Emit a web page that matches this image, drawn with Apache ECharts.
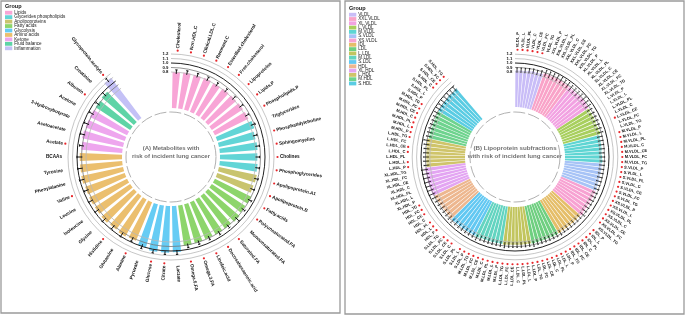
<!DOCTYPE html>
<html>
<head>
<meta charset="utf-8">
<title>Circular bar plots</title>
<script src="https://cdn.jsdelivr.net/npm/echarts@6.0.0/dist/echarts.min.js"></script>
<style>
  html, body { margin: 0; padding: 0; background: #fff; }
  #main { width: 685px; height: 315px; }
</style>
</head>
<body>
<div id="main"></div>
<script>
// ---- (A) metabolites ----
var metGroups = ['Lipids', 'Glycerides phospholipids', 'Apolipoproteins', 'Fatty acids', 'Glycolysis',
  'Amino acids', 'Ketone', 'Fluid balance', 'Inflammation'];
var metColors = ['#F8A5D6', '#62D5D6', '#C9C46E', '#8DD56B', '#66CCF4', '#EBBF6E', '#EEA6EE', '#5ED4A6', '#C4C1F6'];
var metNames = ['Cholesterol', 'Non.HDL.C', 'Clinical.LDL.C', 'Remnant.C', 'Esterified.cholesterol',
  'Free.cholesterol', 'Lipoproteins', 'Lipids.P', 'Phospholipids.P',
  'Triglycerides', 'Phosphatidylcholine', 'Sphingomyelins', 'Cholines', 'Phosphoglycerides',
  'Apolipoprotein.A1', 'Apolipoprotein.B',
  'Fatty.acids', 'Polyunsaturated.FA', 'Monounsaturated.FA', 'Saturated.FA', 'Docosahexaenoic.acid',
  'Linoleic.acid', 'Omega.3.FA', 'Omega.6.FA',
  'Lactate', 'Citrate', 'Glucose', 'Pyruvate',
  'Alanine', 'Glutamine', 'Histidine', 'Glycine', 'Isoleucine', 'Leucine', 'Valine', 'Phenylalanine',
  'Tyrosine', 'BCAAs',
  'Acetate', 'Acetoacetate', '3-Hydroxybutyrate', 'Acetone',
  'Albumin', 'Creatinine',
  'Glycoprotein.acetyls'];
var metGroupOf = [0, 0, 0, 0, 0, 0, 0, 0, 0, 1, 1, 1, 1, 1, 2, 2, 3, 3, 3, 3, 3, 3, 3, 3,
  4, 4, 4, 4, 5, 5, 5, 5, 5, 5, 5, 5, 5, 5, 6, 6, 6, 6, 7, 7, 8];
var metHR = [0.80, 0.81, 0.81, 0.82, 0.81, 0.82, 0.82, 0.83, 0.83,
  0.87, 0.83, 0.84, 0.83, 0.84, 0.86, 0.85,
  0.90, 0.89, 0.92, 0.90, 0.90, 0.89, 0.90, 0.91,
  1.03, 1.04, 1.04, 1.00,
  0.93, 0.95, 0.93, 0.95, 0.94, 0.94, 0.93, 0.95, 0.94, 0.94,
  0.91, 0.93, 0.92, 0.92, 0.92, 0.94, 1.12];
var metLow = [0.76, 0.77, 0.77, 0.78, 0.77, 0.78, 0.78, 0.79, 0.79,
  0.82, 0.79, 0.80, 0.79, 0.80, 0.82, 0.81,
  0.86, 0.85, 0.87, 0.86, 0.86, 0.85, 0.86, 0.87,
  0.98, 1.01, 1.01, 0.95,
  0.88, 0.90, 0.88, 0.90, 0.89, 0.89, 0.88, 0.90, 0.89, 0.88,
  0.86, 0.88, 0.87, 0.87, 0.87, 0.89, 1.07];
var metHigh = [0.85, 0.86, 0.86, 0.87, 0.86, 0.87, 0.87, 0.88, 0.88,
  0.92, 0.88, 0.89, 0.88, 0.89, 0.91, 0.90,
  0.95, 0.94, 0.98, 0.95, 0.95, 0.94, 0.95, 0.96,
  1.08, 1.08, 1.08, 1.05,
  0.98, 1.01, 0.98, 1.01, 1.00, 1.00, 0.98, 1.01, 1.00, 1.00,
  0.96, 0.99, 0.98, 0.98, 0.97, 1.00, 1.17];
var metSig = [1, 1, 1, 1, 1, 1, 1, 1, 1, 0, 1, 1, 1, 1, 1, 1, 1, 1, 0, 1, 1, 1, 1, 1,
  0, 1, 1, 0, 1, 0, 1, 0, 0, 0, 1, 0, 0, 0, 1, 0, 0, 0, 1, 0, 1];

// ---- (B) lipoprotein subfractions ----
var lipGroups = ['VLDL', 'XXL.VLDL', 'XL.VLDL', 'L.VLDL', 'M.VLDL', 'S.VLDL', 'XS.VLDL', 'IDL', 'LDL',
  'L.LDL', 'M.LDL', 'S.LDL', 'HDL', 'XL.HDL', 'L.HDL', 'M.HDL', 'S.HDL'];
var lipColors = ['#C9BDF7', '#F9A3C8', '#F2A2E2', '#A8CF5E', '#5FD5D3', '#A7C3F6', '#F7A2D2', '#E5BE69',
  '#6FCF80', '#C2C55E', '#63D4C0', '#62C8F2', '#EDB78F', '#E3A5F2', '#CFC46A', '#6ED38E', '#5ACCE3'];
var lipMeasures = ['P', 'L', 'PL', 'C', 'CE', 'FC', 'TG'];
var lipHR = [
  [0.83, 0.83, 0.83, 0.84, 0.85, 0.84, 0.85],
  [0.88, 0.88, 0.88, 0.89, 0.89, 0.88, 0.88],
  [0.87, 0.87, 0.87, 0.88, 0.89, 0.88, 0.87],
  [0.86, 0.86, 0.86, 0.86, 0.85, 0.86, 0.87],
  [0.84, 0.84, 0.84, 0.84, 0.83, 0.84, 0.85],
  [0.84, 0.84, 0.84, 0.84, 0.84, 0.84, 0.85],
  [0.85, 0.85, 0.85, 0.85, 0.85, 0.85, 0.87],
  [0.85, 0.85, 0.85, 0.85, 0.85, 0.85, 0.86],
  [0.86, 0.86, 0.86, 0.86, 0.86, 0.86, 0.87],
  [0.86, 0.86, 0.86, 0.86, 0.86, 0.86, 0.87],
  [0.86, 0.86, 0.86, 0.86, 0.86, 0.86, 0.88],
  [0.87, 0.87, 0.87, 0.87, 0.87, 0.87, 0.88],
  [0.88, 0.87, 0.87, 0.87, 0.87, 0.88, 0.89],
  [0.92, 0.92, 0.92, 0.92, 0.92, 0.92, 0.93],
  [0.88, 0.88, 0.88, 0.88, 0.88, 0.89, 0.90],
  [0.87, 0.87, 0.87, 0.87, 0.87, 0.88, 0.89],
  [0.90, 0.90, 0.90, 0.90, 0.91, 0.90, 0.92]
];
var lipLow = [
  [0.78, 0.78, 0.78, 0.79, 0.80, 0.79, 0.79],
  [0.81, 0.81, 0.81, 0.82, 0.82, 0.81, 0.81],
  [0.80, 0.80, 0.80, 0.81, 0.82, 0.81, 0.80],
  [0.80, 0.80, 0.80, 0.80, 0.79, 0.80, 0.81],
  [0.78, 0.78, 0.78, 0.78, 0.77, 0.78, 0.79],
  [0.78, 0.78, 0.78, 0.78, 0.78, 0.78, 0.79],
  [0.79, 0.79, 0.79, 0.79, 0.79, 0.79, 0.81],
  [0.79, 0.79, 0.79, 0.79, 0.79, 0.79, 0.80],
  [0.80, 0.80, 0.80, 0.80, 0.80, 0.80, 0.81],
  [0.80, 0.80, 0.80, 0.80, 0.80, 0.80, 0.81],
  [0.80, 0.80, 0.80, 0.80, 0.80, 0.80, 0.82],
  [0.81, 0.81, 0.81, 0.81, 0.81, 0.81, 0.82],
  [0.82, 0.81, 0.81, 0.81, 0.81, 0.82, 0.83],
  [0.85, 0.85, 0.85, 0.85, 0.85, 0.85, 0.86],
  [0.82, 0.82, 0.82, 0.82, 0.82, 0.83, 0.84],
  [0.81, 0.81, 0.81, 0.81, 0.81, 0.82, 0.83],
  [0.84, 0.84, 0.84, 0.84, 0.85, 0.84, 0.86]
];
var lipHigh = [
  [0.89, 0.89, 0.89, 0.90, 0.91, 0.90, 0.92],
  [0.96, 0.96, 0.96, 0.97, 0.97, 0.96, 0.96],
  [0.95, 0.95, 0.95, 0.96, 0.97, 0.96, 0.95],
  [0.93, 0.93, 0.93, 0.93, 0.92, 0.93, 0.94],
  [0.90, 0.90, 0.90, 0.90, 0.89, 0.90, 0.91],
  [0.90, 0.90, 0.90, 0.90, 0.90, 0.90, 0.91],
  [0.91, 0.91, 0.91, 0.91, 0.91, 0.91, 0.94],
  [0.91, 0.91, 0.91, 0.91, 0.91, 0.91, 0.93],
  [0.92, 0.92, 0.92, 0.92, 0.92, 0.92, 0.94],
  [0.92, 0.92, 0.92, 0.92, 0.92, 0.92, 0.94],
  [0.92, 0.92, 0.92, 0.92, 0.92, 0.92, 0.95],
  [0.93, 0.93, 0.93, 0.93, 0.93, 0.93, 0.95],
  [0.94, 0.93, 0.93, 0.93, 0.93, 0.94, 0.96],
  [1.00, 1.00, 1.00, 1.00, 1.00, 1.00, 1.01],
  [0.94, 0.94, 0.94, 0.94, 0.94, 0.95, 0.97],
  [0.93, 0.93, 0.93, 0.93, 0.93, 0.94, 0.96],
  [0.97, 0.97, 0.97, 0.97, 0.98, 0.97, 0.99]
];
var lipSig = ['1111110', '0000000', '0000000', '0000100', '1111111', '1111111', '1111110', '1111111',
  '1111111', '1111111', '1111111', '1101110', '1110111', '0000000', '1101101', '1111111', '0001111'];

var radialTicks = [0.8, 0.9, 1.0, 1.1, 1.2];
var tickColors = ['#b8b8b8', '#777777', '#222222', '#b8b8b8', '#b8b8b8'];

var FONT = 'Liberation Sans, Arial, sans-serif';
var metCenter = [171, 157];
var lipCenter = [515, 157];

// flatten the lipoprotein table
var lipNames = [], lipGroupOf = [], lipVal = [], lipLo = [], lipHi = [], lipStar = [];
lipGroups.forEach(function (g, gi) {
  lipMeasures.forEach(function (m, mi) {
    lipNames.push(g + '_' + m);
    lipGroupOf.push(gi);
    lipVal.push(lipHR[gi][mi]);
    lipLo.push(lipLow[gi][mi]);
    lipHi.push(lipHigh[gi][mi]);
    lipStar.push(lipSig[gi].charAt(mi) === '1' ? 1 : 0);
  });
});

function slots(names, empty) {
  var s = names.slice();
  for (var k = 0; k < empty; k++) s.push('gap' + k);
  return s;
}

function angleOf(api, cs, i) {
  var p = api.coord([0, i]);
  return Math.atan2(p[1] - cs.cy, p[0] - cs.cx);
}

function radiusOf(api, cs, v) {
  var p = api.coord([v, 0]);
  return Math.sqrt((p[0] - cs.cx) * (p[0] - cs.cx) + (p[1] - cs.cy) * (p[1] - cs.cy));
}

function barSeries(pi, vals, groupOf, colors, gap) {
  return {
    type: 'bar', coordinateSystem: 'polar', polarIndex: pi, barCategoryGap: gap, z: 2, silent: true,
    data: vals.map(function (v, i) { return { value: v, itemStyle: { color: colors[groupOf[i]] } }; })
  };
}

// reference circles, tick labels and the dashed inner ring
function gridSeries(pi, nBars, dashInset) {
  return {
    type: 'custom', coordinateSystem: 'polar', polarIndex: pi, z: 3, silent: true,
    data: [[0, 0]],
    renderItem: function (params, api) {
      var cs = params.coordSys;
      var a0 = angleOf(api, cs, 0), a1 = angleOf(api, cs, 1);
      var step = a1 - a0;
      if (step < -Math.PI) step += 2 * Math.PI;
      var start = a0 - step / 2, end = start + step * nBars;
      var kids = [];
      radialTicks.forEach(function (v, k) {
        var rr = radiusOf(api, cs, v);
        kids.push({
          type: 'arc',
          shape: { cx: cs.cx, cy: cs.cy, r: rr, startAngle: start, endAngle: end, clockwise: true },
          style: { fill: null, stroke: tickColors[k], lineWidth: k === 2 ? 1 : 0.8 }
        });
        kids.push({
          type: 'text', x: cs.cx - 2.5, y: cs.cy - rr,
          style: { text: v.toFixed(1), fontSize: 4.3, fontWeight: 'bold', fontFamily: FONT,
            fill: '#111', align: 'right', verticalAlign: 'middle' }
        });
      });
      kids.push({
        type: 'arc',
        shape: { cx: cs.cx, cy: cs.cy, r: cs.r0 - dashInset, startAngle: 0, endAngle: Math.PI * 2 },
        style: { fill: null, stroke: '#a8a8a8', lineWidth: 0.9, lineDash: [12, 3] }
      });
      return { type: 'group', children: kids };
    }
  };
}

function errorSeries(pi, lo, hi, cap, width) {
  return {
    type: 'custom', coordinateSystem: 'polar', polarIndex: pi, z: 4, silent: true,
    data: lo.map(function (v, i) { return [v, i]; }),
    renderItem: function (params, api) {
      var i = params.dataIndex;
      var p1 = api.coord([lo[i], i]);
      var p2 = api.coord([hi[i], i]);
      var dx = p2[0] - p1[0], dy = p2[1] - p1[1];
      var len = Math.sqrt(dx * dx + dy * dy) || 1;
      var nx = -dy / len * cap, ny = dx / len * cap;
      var st = { stroke: '#111', lineWidth: width };
      return {
        type: 'group', children: [
          { type: 'line', shape: { x1: p1[0], y1: p1[1], x2: p2[0], y2: p2[1] }, style: st },
          { type: 'line', shape: { x1: p2[0] - nx, y1: p2[1] - ny, x2: p2[0] + nx, y2: p2[1] + ny }, style: st }
        ]
      };
    }
  };
}

function labelSeries(pi, names, star, fontSize, offset) {
  return {
    type: 'custom', coordinateSystem: 'polar', polarIndex: pi, z: 4, silent: true,
    data: names.map(function (n, i) { return [0, i]; }),
    renderItem: function (params, api) {
      var cs = params.coordSys;
      var i = params.dataIndex;
      var a = angleOf(api, cs, i);
      var ca = Math.cos(a), sa = Math.sin(a);
      var r = cs.r + offset;
      var right = ca >= -0.02;
      var tr = r + 2.4;
      var kids = [{
        type: 'text', x: cs.cx + ca * tr, y: cs.cy + sa * tr,
        rotation: right ? -a : Math.PI - a,
        style: { text: names[i], fontSize: fontSize, fontWeight: 'bold', fontFamily: FONT, fill: '#111',
          align: right ? 'left' : 'right', verticalAlign: 'middle' }
      }];
      if (star[i]) {
        kids.push({ type: 'circle', shape: { cx: cs.cx + ca * r, cy: cs.cy + sa * r, r: 1.1 },
          style: { fill: '#e8262a' } });
      }
      return { type: 'group', children: kids };
    }
  };
}

function legend(x, y0, step, groups, colors) {
  var els = [{ type: 'text', x: x, y: y0 - 6.5,
    style: { text: 'Group', fontSize: 5.5, fontWeight: 'bold', fontFamily: FONT, fill: '#111', verticalAlign: 'middle' } }];
  groups.forEach(function (g, k) {
    var yc = y0 + step * k;
    els.push({ type: 'rect', shape: { x: x, y: yc - 1.9, width: 7.3, height: 3.8 }, style: { fill: colors[k] } });
    els.push({ type: 'text', x: x + 9.3, y: yc,
      style: { text: g, fontSize: 4.6, fontFamily: FONT, fill: '#222', verticalAlign: 'middle' } });
  });
  return els;
}

function centerTitle(c, lines, size) {
  return lines.map(function (t, k) {
    return { type: 'text', x: c[0], y: 148.5 + k * 8,
      style: { text: t, fontSize: size, fontWeight: 'bold', fontFamily: FONT, fill: '#707070',
        align: 'center', verticalAlign: 'middle' } };
  });
}

var chart = echarts.init(document.getElementById('main'));
var hidden = { axisLine: { show: false }, axisTick: { show: false }, axisLabel: { show: false }, splitLine: { show: false } };

chart.setOption({
  animation: false,
  backgroundColor: '#fff',
  polar: [
    { center: metCenter, radius: [49, 103] },
    { center: lipCenter, radius: [50, 102.8] }
  ],
  angleAxis: [
    Object.assign({ polarIndex: 0, type: 'category', data: slots(metNames, 5), startAngle: 90, clockwise: true }, hidden),
    Object.assign({ polarIndex: 1, type: 'category', data: slots(lipNames, 15), startAngle: 90, clockwise: true }, hidden)
  ],
  radiusAxis: [
    Object.assign({ polarIndex: 0, type: 'value', min: 0, max: 1.2 }, hidden),
    Object.assign({ polarIndex: 1, type: 'value', min: 0, max: 1.2 }, hidden)
  ],
  graphic: [
    { type: 'rect', shape: { x: 1, y: 1, width: 339, height: 312 }, style: { fill: null, stroke: '#9a9a9a', lineWidth: 1.3 } },
    { type: 'rect', shape: { x: 345, y: 1, width: 339, height: 313 }, style: { fill: null, stroke: '#9a9a9a', lineWidth: 1.3 } }
  ].concat(legend(5, 12.7, 4.45, metGroups, metColors))
   .concat(legend(349, 14.7, 4.3, lipGroups, lipColors))
   .concat(centerTitle(metCenter, ['(A) Metabolites with', 'risk of incident lung cancer'], 6))
   .concat(centerTitle(lipCenter, ['(B) Lipoprotein subfractions', 'with risk of incident lung cancer'], 6.2)),
  series: [
    barSeries(0, metHR, metGroupOf, metColors, '30%'),
    gridSeries(0, metNames.length, 4),
    errorSeries(0, metLow, metHigh, 1.2, 1),
    labelSeries(0, metNames, metSig, 4.7, 3.5),
    barSeries(1, lipVal, lipGroupOf, lipColors, '18%'),
    gridSeries(1, lipNames.length, 5),
    errorSeries(1, lipLo, lipHi, 0.7, 0.8),
    labelSeries(1, lipNames, lipStar, 4, 4.5)
  ]
});
</script>
</body>
</html>
